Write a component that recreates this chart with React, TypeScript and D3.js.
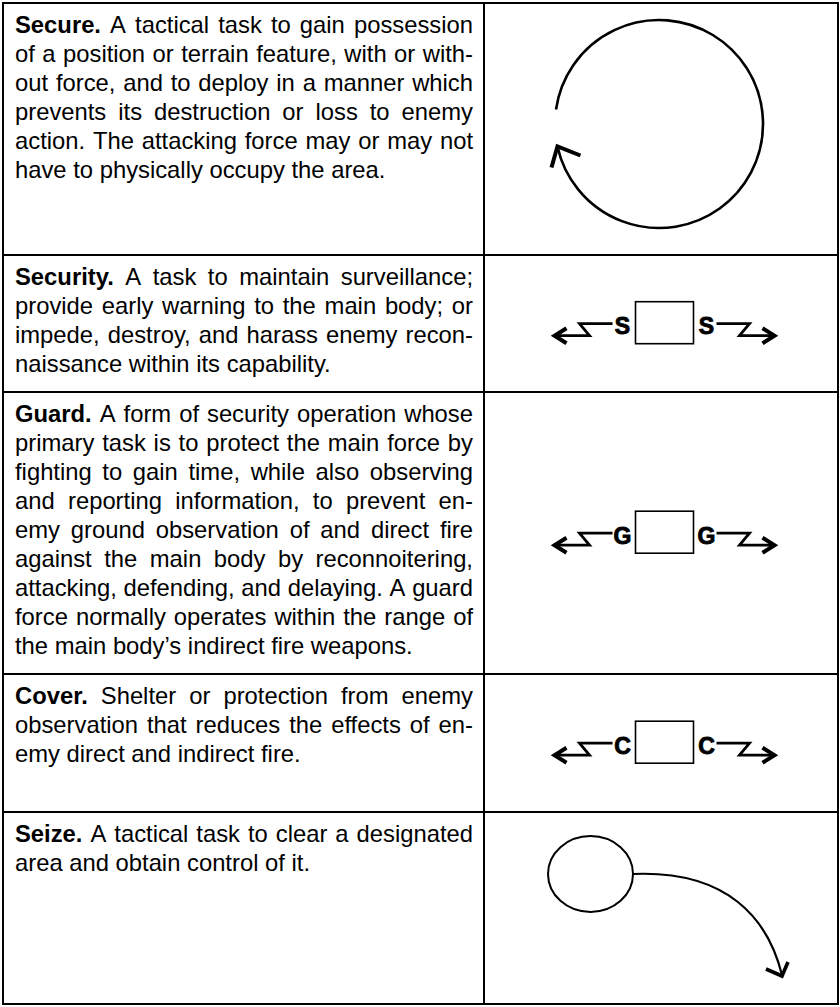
import * as d3 from "d3";

// Term definitions, one entry per row, lines broken as in the source table
const terms = ["Secure.", "Security.", "Guard.", "Cover.", "Seize."];

const secureLines = [
  "A tactical task to gain possession",
  "of a position or terrain feature, with or with-",
  "out force, and to deploy in a manner which",
  "prevents its destruction or loss to enemy",
  "action. The attacking force may or may not",
  "have to physically occupy the area.",
];
const securityLines = [
  "A task to maintain surveillance;",
  "provide early warning to the main body; or",
  "impede, destroy, and harass enemy recon-",
  "naissance within its capability.",
];
const guardLines = [
  "A form of security operation whose",
  "primary task is to protect the main force by",
  "fighting to gain time, while also observing",
  "and reporting information, to prevent en-",
  "emy ground observation of and direct fire",
  "against the main body by reconnoitering,",
  "attacking, defending, and delaying. A guard",
  "force normally operates within the range of",
  "the main body’s indirect fire weapons.",
];
const coverLines = [
  "Shelter or protection from enemy",
  "observation that reduces the effects of en-",
  "emy direct and indirect fire.",
];
const seizeLines = [
  "A tactical task to clear a designated",
  "area and obtain control of it.",
];
const definitions = [secureLines, securityLines, guardLines, coverLines, seizeLines];

// symbol kind per row, and the letter used by the screen-type symbols
const symbolKinds = ["secure", "screen", "screen", "screen", "seize"];
const symbolLetters = ["", "S", "G", "C", ""];

// table layout
const W = 840;
const H = 1007;
const rowEdges = [3, 255, 392, 674, 812, 1004];
const colEdges = [3, 484, 838];
const textLeft = 15;
const textRight = 473;
const fontSize = 23.8;
const lineHeight = 29;
const FONT = "'Liberation Sans', Arial, Helvetica, sans-serif";

const ctx = document.createElement("canvas").getContext("2d")!;
function measure(s: string, bold: boolean) {
  ctx.font = `${bold ? "bold " : ""}${fontSize}px ${FONT}`;
  return ctx.measureText(s).width;
}

interface Word {
  text: string;
  bold: boolean;
  x: number;
}

function layoutLine(tokens: { text: string; bold: boolean }[], justify: boolean): Word[] {
  const widths = tokens.map((t) => measure(t.text, t.bold));
  const total = d3.sum(widths);
  const space = measure(" ", false);
  const gap = justify && tokens.length > 1 ? (textRight - textLeft - total) / (tokens.length - 1) : space;
  let x = textLeft;
  return tokens.map((t, i) => {
    const w = { ...t, x };
    x += widths[i] + gap;
    return w;
  });
}

function ScreenSymbol({ cx, cy, letter }: { cx: number; cy: number; letter: string }) {
  const side = (s: number) => {
    const p = d3.path();
    p.moveTo(cx + s * 52, cy + 1);
    p.lineTo(cx + s * 85, cy + 1);
    p.lineTo(cx + s * 75, cy + 13);
    p.lineTo(cx + s * 109, cy + 13);
    const head = d3.path();
    head.moveTo(cx + s * 98, cy + 5.5);
    head.lineTo(cx + s * 110, cy + 13);
    head.lineTo(cx + s * 98, cy + 20.5);
    return (
      <g key={s}>
        <path d={p.toString()} fill="none" stroke="#000" strokeWidth={2.8} strokeLinejoin="miter" />
        <path d={head.toString()} fill="none" stroke="#000" strokeWidth={4} strokeLinejoin="miter" />
      </g>
    );
  };
  return (
    <g>
      <rect x={cx - 29} y={cy - 21} width={58} height={42} fill="none" stroke="#000" strokeWidth={1.6} />
      {[-1, 1].map((s) => (
        <text
          key={`t${s}`}
          x={cx + s * 42}
          y={cy + 11.5}
          textAnchor="middle"
          fontFamily={FONT}
          fontWeight="bold"
          fontSize={23}
          stroke="#000"
          strokeWidth={0.9}
        >
          {letter}
        </text>
      ))}
      {side(-1)}
      {side(1)}
    </g>
  );
}

function SecureSymbol({ cx, cy }: { cx: number; cy: number }) {
  const r = 104;
  const deg = d3.scaleLinear().domain([0, 360]).range([0, 2 * Math.PI]);
  const a0 = deg(188);
  const a1 = deg(527.5);
  const p = d3.path();
  p.arc(cx, cy, r, a0, a1, false);
  const tipX = cx + r * Math.cos(a1);
  const tipY = cy + r * Math.sin(a1);
  const head = d3.path();
  head.moveTo(tipX + 23, tipY + 9);
  head.lineTo(tipX, tipY);
  head.lineTo(tipX - 6, tipY + 21);
  return (
    <g>
      <path d={p.toString()} fill="none" stroke="#000" strokeWidth={2.6} />
      <path d={head.toString()} fill="none" stroke="#000" strokeWidth={4} strokeLinejoin="miter" />
    </g>
  );
}

function SeizeSymbol({ cx, cy }: { cx: number; cy: number }) {
  const rx = 42.5;
  const ry = 38;
  const p = d3.path();
  const sx = cx + rx;
  p.moveTo(sx, cy);
  p.bezierCurveTo(sx + 95, cy - 4, sx + 135, cy + 45, sx + 149, cy + 101);
  const tipX = sx + 149;
  const tipY = cy + 102;
  const head = d3.path();
  head.moveTo(tipX - 16, tipY - 7);
  head.lineTo(tipX, tipY);
  head.lineTo(tipX + 6, tipY - 14);
  return (
    <g>
      <ellipse cx={cx} cy={cy} rx={rx} ry={ry} fill="none" stroke="#000" strokeWidth={2} />
      <path d={p.toString()} fill="none" stroke="#000" strokeWidth={2.2} />
      <path d={head.toString()} fill="none" stroke="#000" strokeWidth={3.6} strokeLinejoin="miter" />
    </g>
  );
}

export default function App() {
  const symCx = (colEdges[1] + colEdges[2]) / 2 + 3.5;

  return (
    <svg
      width={W}
      height={H}
      viewBox={`0 0 ${W} ${H}`}
      style={{ position: "absolute", left: 0, top: 0, background: "#fff" }}
    >
      <rect x={0} y={0} width={W} height={H} fill="#fff" />

      {definitions.map((lines, ri) => {
        const top = rowEdges[ri];
        return (
          <g key={ri}>
            {lines.map((line, li) => {
              const tokens = line.split(" ").map((t) => ({ text: t, bold: false }));
              if (li === 0) tokens.unshift({ text: terms[ri], bold: true });
              const words = layoutLine(tokens, li < lines.length - 1);
              return (
                <text key={li} y={top + 30 + li * lineHeight} fontFamily={FONT} fontSize={fontSize} fill="#000">
                  {words.map((w, wi) => (
                    <tspan key={wi} x={w.x} fontWeight={w.bold ? "bold" : "normal"}>
                      {w.text}
                    </tspan>
                  ))}
                </text>
              );
            })}
          </g>
        );
      })}

      {symbolKinds.map((kind, ri) => {
        const cy = (rowEdges[ri] + rowEdges[ri + 1]) / 2;
        if (kind === "secure") return <SecureSymbol key={ri} cx={659} cy={124} />;
        if (kind === "seize") return <SeizeSymbol key={ri} cx={590.5} cy={874} />;
        return <ScreenSymbol key={ri} cx={symCx} cy={cy - 0.8} letter={symbolLetters[ri]} />;
      })}

      {/* grid */}
      {rowEdges.map((y, i) => (
        <line key={`h${i}`} x1={colEdges[0] - 1} x2={colEdges[2] + 1} y1={y} y2={y} stroke="#000" strokeWidth={2} />
      ))}
      {colEdges.map((x, i) => (
        <line key={`v${i}`} x1={x} x2={x} y1={rowEdges[0]} y2={rowEdges[rowEdges.length - 1]} stroke="#000" strokeWidth={2} />
      ))}
    </svg>
  );
}
